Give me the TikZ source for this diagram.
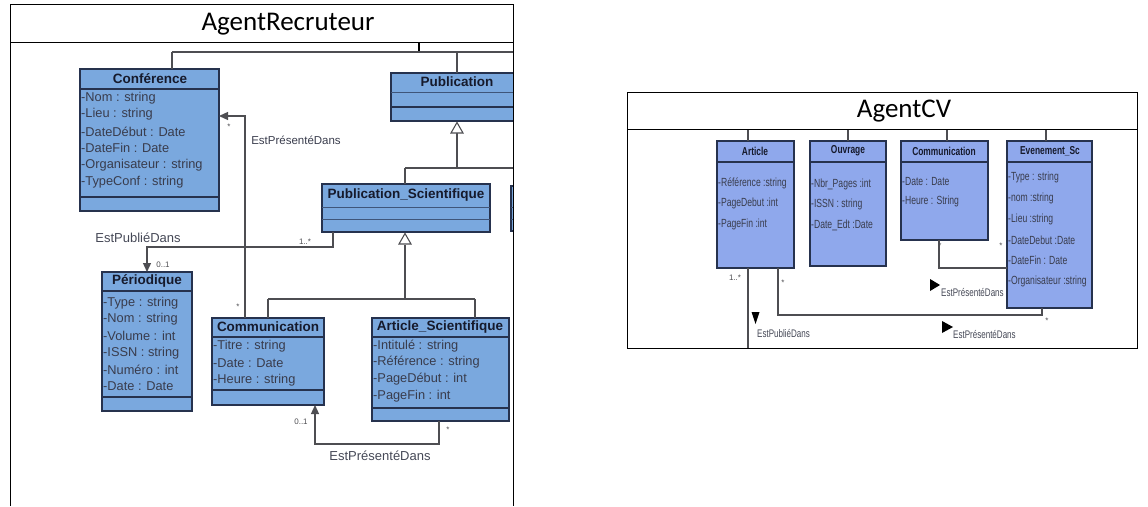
\documentclass[tikz,border=0pt]{standalone}
\usepackage{fontspec}
\setmainfont{Liberation Sans}
\newfontfamily\headfont{Carlito}
\usetikzlibrary{arrows.meta}

\definecolor{lblue}{RGB}{122,168,222}
\definecolor{rblue}{RGB}{143,168,236}
\definecolor{edge}{RGB}{38,50,78}
\definecolor{wirec}{RGB}{78,78,82}
\definecolor{ink}{RGB}{22,26,44}
\newcommand{\narrowtext}[1]{\scalebox{0.73}[1]{#1}}

\tikzset{
  frame/.style={draw=black, line width=1pt},
  umlbox/.style={draw=edge, line width=1.3pt, inner sep=0pt, outer sep=0pt, anchor=north west},
  lbox/.style={umlbox, fill=lblue},
  rbox/.style={umlbox, fill=rblue, line width=1.1pt},
  sep/.style={draw=edge, line width=1.1pt},
  lightsep/.style={draw=edge!70!lblue, line width=0.8pt},
  ltitle/.style={font=\bfseries\fontsize{13.5}{14}\selectfont, text=ink, inner sep=0pt},
  lattr/.style={font=\fontsize{12.8}{14}\selectfont, text=ink!85, inner sep=0pt, anchor=west},
  rtitle/.style={font=\bfseries\fontsize{11.5}{12}\selectfont, text=ink, inner sep=0pt},
  rattr/.style={font=\fontsize{11.8}{12}\selectfont, text=ink!85, inner sep=0pt, anchor=west},
  wire/.style={draw=wirec, line width=1.3pt},
  mult/.style={font=\fontsize{8}{9}\selectfont, text=wirec, inner sep=0pt},
  role/.style={font=\fontsize{13}{14}\selectfont, text=ink!80, inner sep=0pt},
  rrole/.style={font=\fontsize{11}{11}\selectfont, text=ink!80, inner sep=0pt, anchor=west},
  gen/.style={draw=wirec, fill=white, line width=1.1pt},
  navhead/.style={-{Triangle[length=9pt,width=8pt]}},
  marker/.style={fill=black, draw=none},
}

\begin{document}
\begin{tikzpicture}[x=1pt, y=-1pt]
\useasboundingbox (0,0) rectangle (1148,506);

% ---------------- AgentRecruteur ----------------
\node[font=\headfont\fontsize{27}{30}\selectfont] (lhead) at (288,24) {AgentRecruteur};

% Conférence
\node[lbox, minimum width=139, minimum height=142] (conf) at (80,69) {};
\draw[sep] (conf.west |- 0,89) -- (conf.east |- 0,89);
\draw[sep] (conf.west |- 0,197) -- (conf.east |- 0,197);
\node[ltitle] (conf-t) at (150,79) {Conférence};
\foreach \txt [count=\i] in {{-Nom : string},{-Lieu : string},{-DateDébut : Date},{-DateFin : Date},{-Organisateur : string},{-TypeConf : string}}
  \node[lattr] (conf-a\i) at (81, 81+16.8*\i) {\txt};

% Publication and the class beside Publication_Scientifique run past the frame
\begin{scope}
  \clip (0,0) rectangle (513,506);
  \node[lbox, minimum width=140, minimum height=48] (pub) at (391,73) {};
  \draw[lightsep] (391,92) -- (531,92);
  \draw[sep] (391,107) -- (531,107);
  \node[lbox, minimum width=30, minimum height=45] (side) at (511,186) {};
  \draw[lightsep] (511,207) -- (541,207);
  \draw[lightsep] (511,219) -- (541,219);
\end{scope}
\node[ltitle] (pub-t) at (457,82) {Publication};

% Publication_Scientifique
\node[lbox, minimum width=168, minimum height=48] (pubsci) at (322,184) {};
\draw[lightsep] (pubsci.west |- 0,207) -- (pubsci.east |- 0,207);
\draw[lightsep] (pubsci.west |- 0,219) -- (pubsci.east |- 0,219);
\node[ltitle] (pubsci-t) at (406,195) {Publication\_Scientifique};

% Périodique
\node[lbox, minimum width=90, minimum height=139] (perio) at (102,272) {};
\draw[sep] (perio.west |- 0,291) -- (perio.east |- 0,291);
\draw[sep] (perio.west |- 0,397) -- (perio.east |- 0,397);
\node[ltitle] (perio-t) at (147,281) {Périodique};
\foreach \txt [count=\i] in {{-Type : string},{-Nom : string},{-Volume : int},{-ISSN : string},{-Numéro : int},{-Date : Date}}
  \node[lattr] (perio-a\i) at (103, 286.4+16.6*\i) {\txt};

% Communication
\node[lbox, minimum width=112, minimum height=87] (comm) at (212,318) {};
\draw[sep] (comm.west |- 0,337) -- (comm.east |- 0,337);
\draw[sep] (comm.west |- 0,390) -- (comm.east |- 0,390);
\node[ltitle] (comm-t) at (268,327) {Communication};
\foreach \txt [count=\i] in {{-Titre : string},{-Date : Date},{-Heure : string}}
  \node[lattr] (comm-a\i) at (213, 329+17*\i) {\txt};

% Article_Scientifique
\node[lbox, minimum width=137, minimum height=103] (artsci) at (372,318) {};
\draw[sep] (artsci.west |- 0,337) -- (artsci.east |- 0,337);
\draw[sep] (artsci.west |- 0,408) -- (artsci.east |- 0,408);
\node[ltitle] (artsci-t) at (440,327) {Article\_Scientifique};
\foreach \txt [count=\i] in {{-Intitulé : string},{-Référence : string},{-PageDébut : int},{-PageFin : int}}
  \node[lattr] (artsci-a\i) at (373, 329+16.7*\i) {\txt};

% top bus
\coordinate (busroot) at (419,42);
\coordinate (busL) at (172,52);
\coordinate (busM) at (419,52);
\coordinate (busP) at (457,52);
\coordinate (busR) at (513,52);
\draw[draw=black, line width=2.2pt] (busroot) -- (busM);
\draw[wire] (busL) -- (busR);
\draw[wire] (busL) -- (busL |- conf.north);
\draw[wire] (busP) -- (busP |- pub.north);

% generalisation Publication_Scientifique -> Publication
\coordinate (g1) at (457,122.5);
\coordinate (g1b) at (457,133);
\coordinate (g1bar) at (457,168);
\coordinate (g1L) at (405,168);
\coordinate (g1R) at (513,168);
\draw[wire] (g1b) -- (g1bar);
\draw[wire] (g1L) -- (g1R);
\draw[wire] (g1L) -- (g1L |- pubsci.north);
\draw[gen] (g1) -- ++(-6,10.5) -- ++(12,0) -- cycle;

% generalisation Communication / Article_Scientifique -> Publication_Scientifique
\coordinate (g2) at (405,233.5);
\coordinate (g2b) at (405,245);
\coordinate (g2bar) at (405,299);
\coordinate (g2L) at (268,299);
\coordinate (g2R) at (475,299);
\draw[wire] (g2b) -- (g2bar);
\draw[wire] (g2L) -- (g2R);
\draw[wire] (g2L) -- (g2L |- comm.north);
\draw[wire] (g2R) -- (g2R |- artsci.north);
\draw[gen] (g2) -- ++(-6,10.5) -- ++(12,0) -- cycle;

% EstPubliéDans
\coordinate (pd1) at (333,247);
\coordinate (pd2) at (147,247);
\draw[wire, navhead] (pd1 |- pubsci.south) -- (pd1) -- (pd2) -- (pd2 |- perio.north);
\node[role] (pd-l) at (138,238) {EstPubliéDans};
\node[mult] (pd-m1) at (305,242) {1..*};
\node[mult] (pd-m2) at (163,265) {0..1};

% EstPrésentéDans (Communication -> Conférence)
\coordinate (pc1) at (245,116);
\draw[wire, navhead] (pc1 |- comm.north) -- (pc1) -- (pc1 -| conf.east);
\node[font=\fontsize{11.5}{12}\selectfont, text=ink!85, inner sep=0pt] (pc-l) at (296,140) {EstPrésentéDans};
\node[mult] (pc-m1) at (229,127) {*};
\node[mult] (pc-m2) at (238,307) {*};

% EstPrésentéDans (Article_Scientifique -> Communication)
\coordinate (pa1) at (439,444);
\coordinate (pa2) at (315,444);
\draw[wire, navhead] (pa1 |- artsci.south) -- (pa1) -- (pa2) -- (pa2 |- comm.south);
\node[role] (pa-l) at (380,456) {EstPrésentéDans};
\node[mult] (pa-m1) at (301,422) {0..1};
\node[mult] (pa-m2) at (448,430) {*};

% frame
\draw[frame] (10,506) -- (10,4) -- (513,4) -- (513,506);
\draw[frame] (10,42) -- (513,42);

% ---------------- AgentCV ----------------
\node[font=\headfont\fontsize{27}{30}\selectfont] (rhead) at (904,111) {AgentCV};

% Article
\node[rbox, minimum width=77, minimum height=127] (art) at (717,141) {};
\draw[sep] (art.west |- 0,162) -- (art.east |- 0,162);
\node[rtitle] (art-t) at (755,151) {\narrowtext{Article}};
\foreach \txt [count=\i] in {{-Référence :string},{-PageDebut :int},{-PageFin :int}}
  \node[rattr] (art-a\i) at (718, 162.5+20.5*\i) {\narrowtext{\txt}};

% Ouvrage
\node[rbox, minimum width=76, minimum height=125] (ouv) at (810,141) {};
\draw[sep] (ouv.west |- 0,162) -- (ouv.east |- 0,162);
\node[rtitle] (ouv-t) at (848,151) {\narrowtext{Ouvrage}};
\foreach \txt [count=\i] in {{-Nbr\_Pages :int},{-ISSN : string},{-Date\_Edt :Date}}
  \node[rattr] (ouv-a\i) at (811, 164+20.3*\i) {\narrowtext{\txt}};

% Communication
\node[rbox, minimum width=87, minimum height=99] (rcomm) at (901,141) {};
\draw[sep] (rcomm.west |- 0,162) -- (rcomm.east |- 0,162);
\node[rtitle] (rcomm-t) at (944,151) {\narrowtext{Communication}};
\foreach \txt [count=\i] in {{-Date : Date},{-Heure : String}}
  \node[rattr] (rcomm-a\i) at (902, 162+19.5*\i) {\narrowtext{\txt}};

% Evenement_Sc
\node[rbox, minimum width=85, minimum height=167] (evt) at (1007,141) {};
\draw[sep] (evt.west |- 0,162) -- (evt.east |- 0,162);
\node[rtitle] (evt-t) at (1050,151) {\narrowtext{Evenement\_Sc}};
\foreach \txt [count=\i] in {{-Type : string},{-nom :string},{-Lieu :string},{-DateDebut :Date},{-DateFin : Date},{-Organisateur :string}}
  \node[rattr] (evt-a\i) at (1008, 157+20.7*\i) {\narrowtext{\txt}};

% stubs from the header line
\foreach \nm/\xx in {art/748, ouv/848, rcomm/947, evt/1046} {
  \coordinate (stub-\nm) at (\xx,129);
  \draw[wire] (stub-\nm) -- (stub-\nm |- \nm.north);
}

% EstPubliéDans leaving Article
\coordinate (ap1) at (748,348);
\draw[wire] (ap1 |- art.south) -- (ap1);
\node[mult] (ap-m) at (735,278) {1..*};
\fill[marker] (751.5,312) -- (759.5,312) -- (755.5,324) -- cycle;
\node[rrole] (ap-l) at (757,333) {\narrowtext{EstPubliéDans}};

% EstPrésentéDans Article -> Evenement_Sc
\coordinate (ae1) at (778,315);
\coordinate (ae2) at (1042,315);
\draw[wire] (ae1 |- art.south) -- (ae1) -- (ae2) -- (ae2 |- evt.south);
\node[mult] (ae-m1) at (783,283) {*};
\node[mult] (ae-m2) at (1047,321) {*};
\fill[marker] (942,321) -- (942,333) -- (953,327) -- cycle;
\node[rrole] (ae-l) at (953,334) {\narrowtext{EstPrésentéDans}};

% EstPrésentéDans Communication -> Evenement_Sc
\coordinate (ce1) at (939,268);
\draw[wire] (ce1 |- rcomm.south) -- (ce1) -- (ce1 -| evt.west);
\node[mult] (ce-m1) at (940,246) {*};
\node[mult] (ce-m2) at (1001,246) {*};
\fill[marker] (930,279) -- (930,291) -- (940,285) -- cycle;
\node[rrole] (ce-l) at (941,292) {\narrowtext{EstPrésentéDans}};

% frame
\draw[frame] (627,92) rectangle (1137,348);
\draw[frame] (627,129) -- (1137,129);
\end{tikzpicture}
\end{document}
